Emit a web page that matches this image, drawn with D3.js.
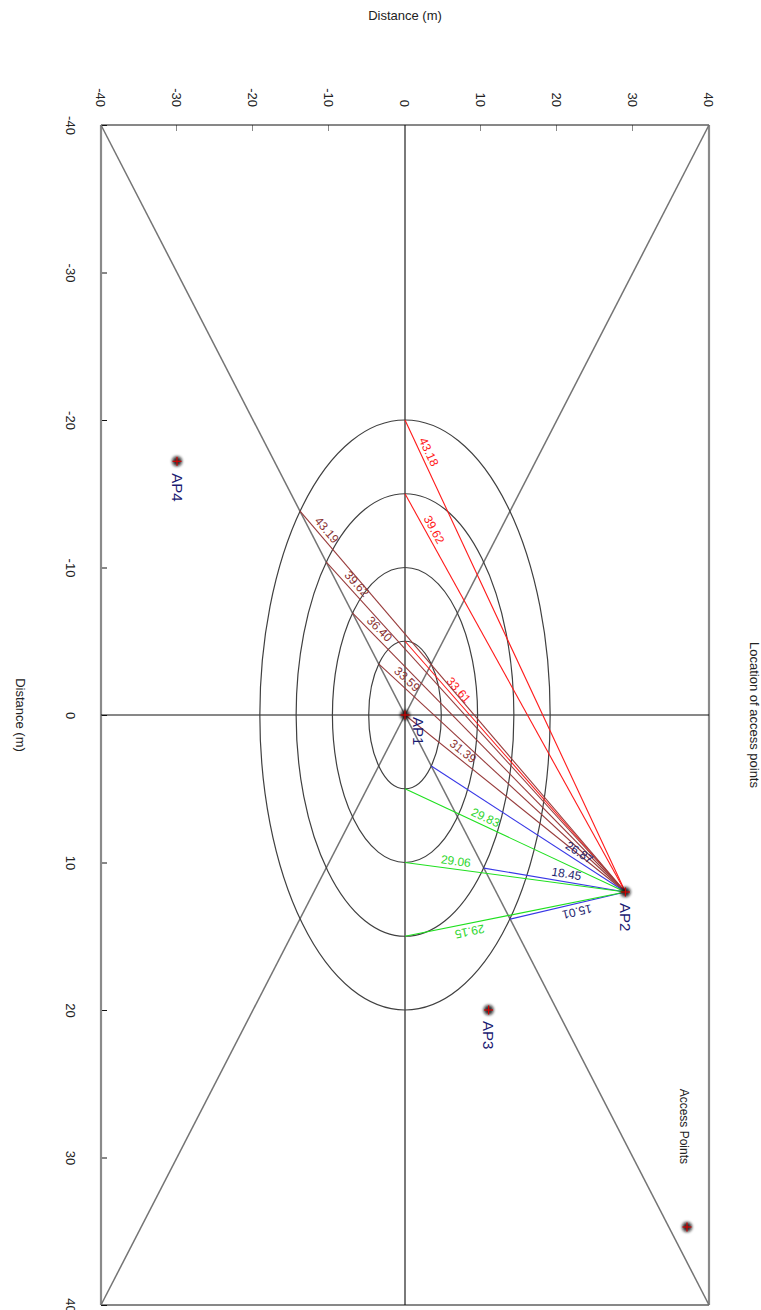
<!DOCTYPE html>
<html>
<head>
<meta charset="utf-8">
<script src="https://cdn.jsdelivr.net/npm/d3@7/dist/d3.min.js"></script>
<style>
  html, body { margin: 0; padding: 0; background: #fff; }
  svg { display: block; font-family: "Liberation Sans", Arial, sans-serif; }
</style>
</head>
<body>
<svg id="chart" width="761" height="1310"></svg>
<script>
// ---- data (metres) ----
const tickValues = [-40, -30, -20, -10, 0, 10, 20, 30, 40];
const ringRadii = [5, 10, 15, 20];

const apNames = ["AP1", "AP2", "AP3", "AP4"];
const apX = [0, 12, 20, -17.2];
const apY = [0, 29, 11, -30];

// measured ranges from AP2 to reference points
const redTargets = [[-20, 0], [-15, 0], [-5, 0]];
const redLabels = ["43.18", "39.62", "33.61"];
const brownTargets = [[-13.84, -13.84], [-10.38, -10.38], [-6.92, -6.92], [-3.46, -3.46], [0, 0]];
const brownLabels = ["43.19", "39.62", "36.40", "33.59", "31.39"];
const blueTargets = [[3.46, 3.46], [10.38, 10.38], [13.84, 13.84]];
const blueLabels = ["26.87", "18.45", "15.01"];
const greenTargets = [[5, 0], [10, 0], [15, 0]];
const greenLabels = ["29.83", "29.06", "29.15"];

// ---- layout / style ----
const W = 761, H = 1310;
const ringSquash = 0.955;          // rings are drawn slightly flattened along y
const labelAt = {                   // fraction along each ray where its label sits
  red: [0.075, 0.10, 0.216],
  brown: [0.064, 0.083, 0.078, 0.093, 0.24],
  blue: [0.74, 0.574, 0.565],
  green: [0.35, 0.226, 0.286]
};
const rayStyle = {
  red:   { line: "#ff1a1a", text: "#ff1a1a" },
  brown: { line: "#983c3c", text: "#8a3232" },
  blue:  { line: "#3838e6", text: "#1e1e6e" },
  green: { line: "#1fe01f", text: "#2ed62e" }
};
const apLabelDx = [2, 11, 11, 12];
const apLabelDy = [-13, 0, 0, 0];

const svg = d3.select("#chart");
svg.append("rect").attr("width", W).attr("height", H).attr("fill", "#fff");

const defs = svg.append("defs");
defs.append("filter").attr("id", "soft").attr("x", "-100%").attr("y", "-100%")
  .attr("width", "300%").attr("height", "300%")
  .append("feGaussianBlur").attr("stdDeviation", 1.8);

// the chart is laid out in its own frame and turned a quarter turn clockwise
const g = svg.append("g").attr("transform", `translate(${W},0) rotate(90)`);

const x = d3.scaleLinear().domain([-40, 40]).range([125, 1305]);
const y = d3.scaleLinear().domain([-40, 40]).range([660, 52]);

// axes
const xAxis = d3.axisBottom(x).tickValues(tickValues).tickSize(-6).tickPadding(26)
  .tickFormat(d => String(d));
const yAxis = d3.axisLeft(y).tickValues(tickValues).tickSize(-6).tickPadding(18)
  .tickFormat(d => String(d));

const gx = g.append("g").attr("transform", `translate(0,${y(-40)})`).call(xAxis);
gx.select(".domain").remove();
gx.selectAll(".tick line").attr("stroke", "#111");
gx.selectAll(".tick text").attr("font-size", 13).attr("fill", "#222")
  .attr("font-family", "Liberation Sans, Arial, sans-serif");

const gy = g.append("g").attr("transform", `translate(${x(-40)},0)`).call(yAxis);
gy.select(".domain").remove();
gy.selectAll(".tick line").attr("stroke", "#888");
gy.selectAll(".tick text").attr("font-size", 13).attr("fill", "#222")
  .attr("font-family", "Liberation Sans, Arial, sans-serif");

// frame and zero lines
const hLine = (yy, col, w) => g.append("line")
  .attr("x1", x(-40)).attr("x2", x(40)).attr("y1", y(yy)).attr("y2", y(yy))
  .attr("stroke", col).attr("stroke-width", w);
const vLine = (xx, col, w) => g.append("line")
  .attr("x1", x(xx)).attr("x2", x(xx)).attr("y1", y(-40)).attr("y2", y(40))
  .attr("stroke", col).attr("stroke-width", w);
hLine(-40, "#8a8a8a", 2.2);
hLine(40, "#8a8a8a", 2.2);
hLine(0, "#7a7a7a", 2);
vLine(-40, "#111", 1);
vLine(40, "#111", 1);
vLine(0, "#111", 1);

// diagonals
g.append("line").attr("x1", x(-40)).attr("y1", y(-40)).attr("x2", x(40)).attr("y2", y(40))
  .attr("stroke", "#747474").attr("stroke-width", 1.5);
g.append("line").attr("x1", x(-40)).attr("y1", y(40)).attr("x2", x(40)).attr("y2", y(-40))
  .attr("stroke", "#747474").attr("stroke-width", 1.5);

// range rings around AP1
g.selectAll("ellipse.ring").data(ringRadii).join("ellipse")
  .attr("class", "ring")
  .attr("cx", x(0)).attr("cy", y(0))
  .attr("rx", r => x(r) - x(0))
  .attr("ry", r => y(0) - y(r * ringSquash))
  .attr("fill", "none").attr("stroke", "#404040").attr("stroke-width", 1.2);

// rays from AP2 with their range labels
const origin = [apX[1], apY[1]];
function drawRays(name, targets, labels) {
  const st = rayStyle[name];
  const grp = g.append("g");
  targets.forEach((t, i) => {
    const x0 = x(t[0]), y0 = y(t[1]);
    const x1 = x(origin[0]), y1 = y(origin[1]);
    grp.append("line").attr("x1", x0).attr("y1", y0).attr("x2", x1).attr("y2", y1)
      .attr("stroke", st.line).attr("stroke-width", 1.1);
    const f = labelAt[name][i];
    const px = x0 + (x1 - x0) * f, py = y0 + (y1 - y0) * f;
    let a = Math.atan2(y1 - y0, x1 - x0) * 180 / Math.PI;
    if (a > 90) a -= 180;
    if (a < -90) a += 180;
    grp.append("text")
      .attr("transform", `translate(${px},${py}) rotate(${a})`)
      .attr("dy", -4)
      .attr("text-anchor", "middle")
      .attr("font-size", 12)
      .attr("fill", st.text)
      .text(labels[i]);
  });
}
drawRays("red", redTargets, redLabels);
drawRays("brown", brownTargets, brownLabels);
drawRays("blue", blueTargets, blueLabels);
drawRays("green", greenTargets, greenLabels);

// access point markers
function marker(sel, cx, cy) {
  sel.append("circle").attr("cx", cx).attr("cy", cy).attr("r", 5)
    .attr("fill", "#111").attr("opacity", 0.85).attr("filter", "url(#soft)");
  sel.append("line").attr("x1", cx - 4.5).attr("x2", cx + 4.5).attr("y1", cy).attr("y2", cy)
    .attr("stroke", "#d40000").attr("stroke-width", 1.2);
  sel.append("line").attr("x1", cx).attr("x2", cx).attr("y1", cy - 4.5).attr("y2", cy + 4.5)
    .attr("stroke", "#d40000").attr("stroke-width", 1.2);
}
const apG = g.append("g");
apNames.forEach((n, i) => {
  const cx = x(apX[i]), cy = y(apY[i]);
  marker(apG, cx, cy);
  apG.append("text")
    .attr("x", cx + apLabelDx[i]).attr("y", cy + apLabelDy[i])
    .attr("dominant-baseline", "central")
    .attr("font-size", 15).attr("fill", "#1a1a72")
    .text(n);
});

// legend
const leg = g.append("g");
leg.append("text").attr("x", 1164).attr("y", 81).attr("text-anchor", "end")
  .attr("font-size", 12).attr("fill", "#222").text("Access Points");
marker(leg, 1227, 74);

// titles
g.append("text").attr("x", (x(-40) + x(40)) / 2).attr("y", 11.5)
  .attr("text-anchor", "middle").attr("font-size", 13).attr("fill", "#222")
  .text("Location of access points");
g.append("text").attr("x", (x(-40) + x(40)) / 2).attr("y", 745)
  .attr("text-anchor", "middle").attr("font-size", 13).attr("fill", "#222")
  .text("Distance (m)");
g.append("text")
  .attr("transform", `translate(20,${y(0)}) rotate(-90)`)
  .attr("text-anchor", "middle").attr("font-size", 13).attr("fill", "#222")
  .text("Distance (m)");
</script>
</body>
</html>
